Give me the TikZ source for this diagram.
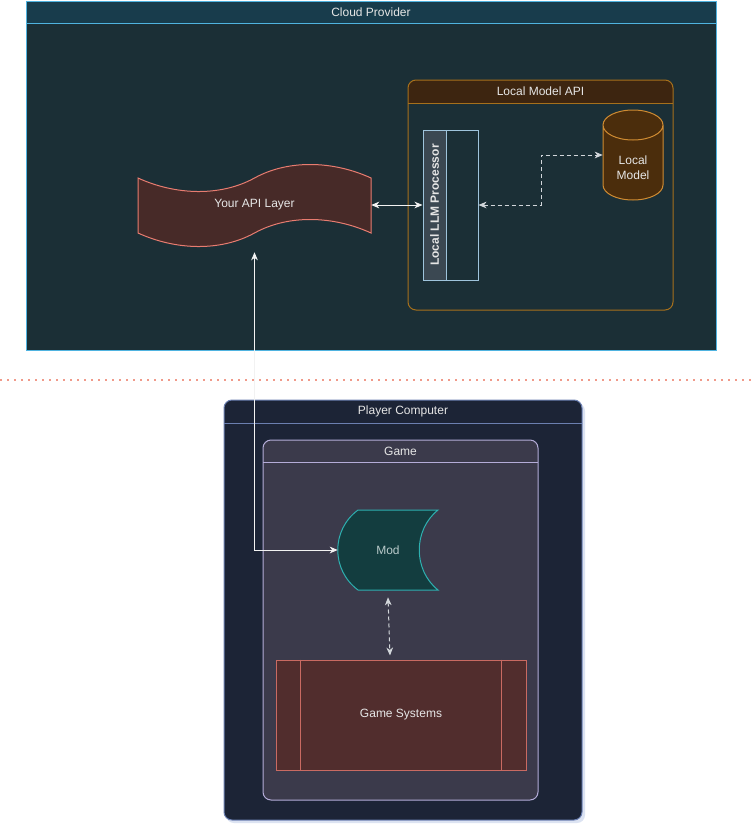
\documentclass[tikz,border=0pt]{standalone}
\usepackage{fontspec}
\setmainfont{Liberation Sans}
\usetikzlibrary{arrows.meta,calc}

\definecolor{cloudbody}{HTML}{1B2F36}
\definecolor{cloudhead}{HTML}{183C4C}
\definecolor{cloudline}{HTML}{4FB3E0}
\definecolor{apihead}{HTML}{3D2510}
\definecolor{apiline}{HTML}{A6701C}
\definecolor{procstrip}{HTML}{3B4852}
\definecolor{procline}{HTML}{9FC4DC}
\definecolor{modelfill}{HTML}{4B2D0C}
\definecolor{modelline}{HTML}{CF8B32}
\definecolor{tapefill}{HTML}{472A28}
\definecolor{tapeline}{HTML}{E87C70}
\definecolor{pcbody}{HTML}{1C2436}
\definecolor{pcline}{HTML}{6B7FB0}
\definecolor{pcshadow}{HTML}{DCE3F2}
\definecolor{gamebody}{HTML}{3B3A4B}
\definecolor{gameline}{HTML}{B4ACD8}
\definecolor{modfill}{HTML}{133D3F}
\definecolor{modline}{HTML}{2EB0B0}
\definecolor{modtext}{HTML}{B9CACA}
\definecolor{sysfill}{HTML}{512D2D}
\definecolor{sysline}{HTML}{C96A62}
\definecolor{divline}{HTML}{F09A8A}
\definecolor{txtcol}{HTML}{E6E6E6}
\definecolor{linkcol}{HTML}{F2F2F2}
\definecolor{dashcol}{HTML}{D2D6DA}

\tikzset{
  title/.style={text=txtcol, font=\fontsize{9}{11}\selectfont, inner sep=0pt},
  edge/.style={line width=0.75pt},
  link/.style={draw=linkcol, line width=0.75pt},
  dashlink/.style={draw=dashcol, line width=0.75pt, dash pattern=on 3pt off 2.25pt},
}

\begin{document}
\begin{tikzpicture}[x=0.75pt,y=-0.75pt,>={Stealth[length=6pt,width=5pt,inset=1.8pt]}]
\useasboundingbox[fill=white] (0,0) rectangle (755,836);

% cloud provider
\fill[cloudbody] (26,1) rectangle (716,350);
\fill[cloudhead] (26,1) rectangle (716,23);
\draw[cloudline,edge] (26,1) rectangle (716,350) (26,23) -- (716,23);
\node[title] (cloudtitle) at (371,12) {Cloud Provider};

% local model api
\begin{scope}
\clip[rounded corners=6pt] (408,80) rectangle (673,310);
\fill[apihead] (408,80) rectangle (673,103);
\end{scope}
\draw[apiline,edge,rounded corners=6pt] (408,80) rectangle (673,310);
\draw[apiline,edge] (408,103) -- (673,103);
\node[title] (apititle) at (540.5,91.5) {Local Model API};

\node[draw=procline, edge, minimum width=41.25pt, minimum height=112.5pt, inner sep=0] (proc) at (450.5,205) {};
\node[draw=procline, fill=procstrip, edge, minimum width=17.25pt, minimum height=112.5pt, inner sep=0, anchor=north west] (procstrip) at (proc.north west) {};
\node[title, rotate=90, font=\fontsize{9}{11}\selectfont\bfseries] (proctext) at (procstrip.center) {Local LLM Processor};

\fill[modelfill] (603,125) -- (603,185) arc[start angle=180,end angle=360,x radius=22.5pt,y radius=11.25pt]
  -- (663,125) arc[start angle=0,end angle=180,x radius=22.5pt,y radius=11.25pt] -- cycle;
\draw[modelline,edge] (603,125) -- (603,185) arc[start angle=180,end angle=360,x radius=22.5pt,y radius=11.25pt]
  -- (663,125) arc[start angle=0,end angle=180,x radius=22.5pt,y radius=11.25pt]
  arc[start angle=180,end angle=360,x radius=22.5pt,y radius=11.25pt];
\node[minimum width=45pt, minimum height=67.5pt] (model) at (633,155) {};
\node[title, align=center] (modeltext) at (633,168) {Local\\Model};

% your api layer
\filldraw[fill=tapefill, draw=tapeline, edge] (138,178) .. controls (175,195) and (220,197) .. (254.5,178)
  .. controls (289,159) and (334,161) .. (371,178) -- (371,233)
  .. controls (334,216) and (289,214) .. (254.5,233)
  .. controls (220,252) and (175,250) .. (138,233) -- cycle;
\node[title, minimum width=174.75pt, minimum height=70.5pt] (api) at (254.5,205) {Your API Layer};

% divider
\coordinate (divleft) at (0,380);
\coordinate (divright) at (755,380);
\draw[divline, line width=1.2pt, dash pattern=on 1.2pt off 4.05pt] (divleft) -- (divright);

% player computer
\fill[pcshadow, rounded corners=6pt] (226,403) rectangle (585,823);
\begin{scope}
\clip[rounded corners=6pt] (224,400) rectangle (582,820);
\fill[pcbody] (224,400) rectangle (582,820);
\end{scope}
\draw[pcline,edge,rounded corners=6pt] (224,400) rectangle (582,820);
\draw[pcline,edge] (224,423) -- (582,423);
\node[title] (pctitle) at (403,411.5) {Player Computer};

% game
\filldraw[fill=gamebody, draw=gameline, edge, rounded corners=6pt] (263,440) rectangle (538,800);
\draw[gameline,edge] (263,462) -- (538,462);
\node[title] (gametitle) at (400.5,451) {Game};

\filldraw[fill=modfill, draw=modline, edge] (358,510) -- (438,510) .. controls (413,530) and (413,570) .. (438,590)
  -- (358,590) .. controls (331,570) and (331,530) .. (358,510) -- cycle;
\node[title, text=modtext, minimum width=75pt, minimum height=70.5pt] (mod) at (388,550) {Mod};

\node[title, draw=sysline, fill=sysfill, edge, minimum width=187.5pt, minimum height=82.5pt] (sys) at (401,715) {Game Systems};
\draw[sysline,edge] ([xshift=18.75pt]sys.north west) -- ([xshift=18.75pt]sys.south west)
  ([xshift=-18.75pt]sys.north east) -- ([xshift=-18.75pt]sys.south east);

% connectors
\draw[link,<->] (api.east) -- (proc.west);
\draw[dashlink,<->] (proc.east) -- (541,205) |- (model.west);
\draw[link,<->] (api.south) |- (mod.west);
\draw[dashlink,<->] (mod.south) -- ([xshift=-8.25pt,yshift=3pt]sys.north);
\end{tikzpicture}
\end{document}
